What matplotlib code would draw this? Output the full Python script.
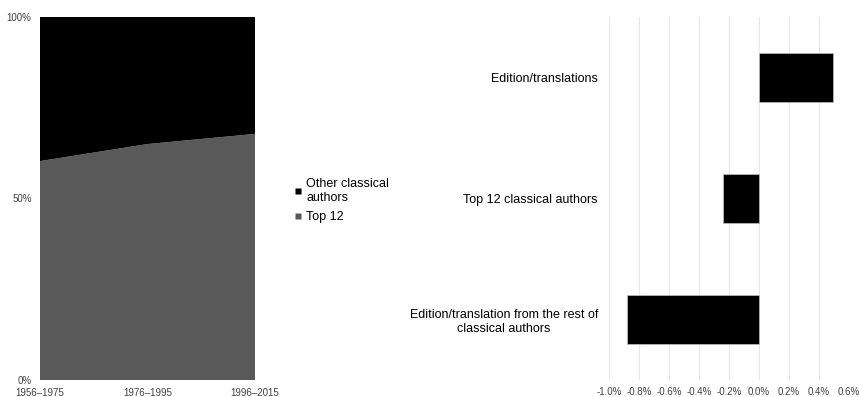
import matplotlib.pyplot as plt
from matplotlib.lines import Line2D
from matplotlib.ticker import PercentFormatter

plt.rcParams['font.family'] = ['Liberation Sans', 'DejaVu Sans']
plt.rcParams['axes.unicode_minus'] = False

# share of publications over time
periods = ['1956–1975', '1976–1995', '1996–2015']
top12_share = [60.3, 65.0, 67.8]
other_share = [100 - v for v in top12_share]

# change in share by category
categories = ['Edition/translation from the rest of\nclassical authors',
              'Top 12 classical authors',
              'Edition/translations']
change = [-0.0088, -0.0024, 0.0049]

fig = plt.figure(figsize=(8.59, 3.97), dpi=100)

# stacked area chart
ax1 = fig.add_axes([40 / 859, 17 / 397, 215 / 859, 363 / 397])
x = range(len(periods))
ax1.stackplot(x, top12_share, other_share, colors=['#595959', '#000000'])
ax1.set_xlim(0, len(periods) - 1)
ax1.set_ylim(0, 100)
ax1.set_xticks(list(x))
ax1.set_xticklabels(periods, fontsize=7, color='#404040')
ax1.set_yticks([0, 50, 100])
ax1.yaxis.set_major_formatter(PercentFormatter(decimals=0))
ax1.tick_params(axis='y', labelsize=7, labelcolor='#404040', length=0, pad=6)
ax1.tick_params(axis='x', length=0, pad=6)
for s in ax1.spines.values():
    s.set_visible(False)

handles = [Line2D([], [], marker='s', color='none', markerfacecolor='#000000',
                  markeredgecolor='none', markersize=5),
           Line2D([], [], marker='s', color='none', markerfacecolor='#595959',
                  markeredgecolor='none', markersize=5)]
fig.legend(handles, ['Other classical\nauthors', 'Top 12'],
           loc='upper left', bbox_to_anchor=(288 / 859, 1 - 172 / 397),
           frameon=False, fontsize=9, handlelength=0.6, handletextpad=0.35,
           labelspacing=0.55, borderpad=0, labelcolor='#000000')

# horizontal bar chart of changes
ax2 = fig.add_axes([609 / 859, 17 / 397, 240 / 859, 363 / 397])
y = range(len(categories))
ax2.barh(list(y), change, height=0.4, color='#000000', edgecolor='#c0c0c0',
         linewidth=0.5, zorder=3)
ax2.set_xlim(-0.01, 0.006)
ax2.set_ylim(-0.5, len(categories) - 0.5)
ax2.set_xticks([i / 1000 for i in range(-10, 7, 2)])
ax2.xaxis.set_major_formatter(PercentFormatter(xmax=1, decimals=1))
ax2.grid(axis='x', color='#e8e8e8', linewidth=0.8, zorder=0)
ax2.set_yticks(list(y))
ax2.set_yticklabels(categories, fontsize=9, color='#000000',
                    ha='right', multialignment='center')
ax2.tick_params(axis='y', length=0, pad=8)
ax2.tick_params(axis='x', length=0, labelsize=7, labelcolor='#404040', pad=5)
for s in ax2.spines.values():
    s.set_visible(False)

fig.savefig('out.png', dpi=100)
